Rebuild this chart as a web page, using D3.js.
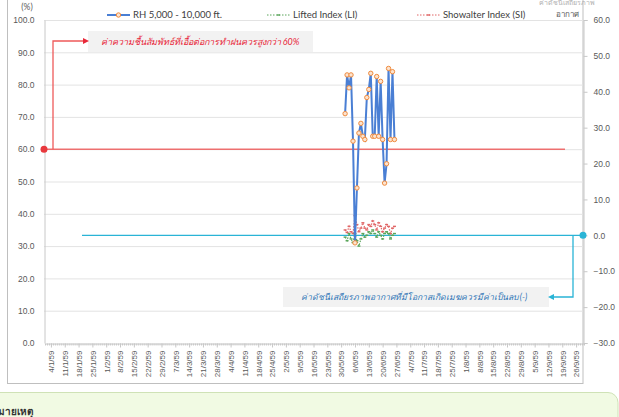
<!DOCTYPE html>
<html>
<head>
<meta charset="utf-8">
<script src="https://cdn.jsdelivr.net/npm/d3@7"></script>
<style>
  body { margin: 0; background: #fff; }
  svg { display: block; font-family: Lato, "Open Sans", sans-serif; }
</style>
</head>
<body>
<svg id="chart" width="619" height="417"></svg>
<script>
// ---- data (dates in Thai Buddhist-era short form d/m/yy) ----
const xTickLabels = ["4/1/59","11/1/59","18/1/59","25/1/59","1/2/59","8/2/59","15/2/59","22/2/59","29/2/59",
  "7/3/59","14/3/59","21/3/59","28/3/59","4/4/59","11/4/59","18/4/59","25/4/59","2/5/59","9/5/59","16/5/59",
  "23/5/59","30/5/59","6/6/59","13/6/59","20/6/59","27/6/59","4/7/59","11/7/59","18/7/59","25/7/59","1/8/59",
  "8/8/59","15/8/59","22/8/59","29/8/59","5/9/59","12/9/59","19/9/59","26/9/59"];
const obsDates = ["1/6/59","2/6/59","3/6/59","4/6/59","5/6/59","6/6/59","7/6/59","8/6/59","9/6/59","10/6/59",
  "11/6/59","12/6/59","13/6/59","14/6/59","15/6/59","16/6/59","17/6/59","18/6/59","19/6/59","20/6/59",
  "21/6/59","22/6/59","23/6/59","24/6/59","25/6/59","26/6/59"];
const rhValues = [71, 83, 79, 83, 62.5, 31, 48, 65, 68, 64, 63, 76, 78.5, 83.5, 64, 64, 82.5, 64, 81, 63,
  49.5, 55.5, 85, 63, 84, 63];
const liValues = [-0.5, -1.5, 0.5, -1.0, -2.0, 0.5, -1.5, -3.0, -1.0, 0.5, -0.5, 0.0, 1.0, 0.5, 1.5, 0.5,
  -0.5, 1.0, 0.0, -1.0, 0.5, 1.0, 0.5, -1.0, 0.0, 0.5];
const siValues = [1.5, 0.8, 2.5, 1.0, 0.5, 5.5, 3.0, 1.0, 2.0, 3.5, 2.0, 1.5, 3.0, 2.5, 4.0, 3.0, 1.5, 3.5,
  2.5, 1.0, 2.0, 3.0, 2.5, 0.5, 2.0, 2.5];
const leftTicks = [0, 10, 20, 30, 40, 50, 60, 70, 80, 90, 100];
const rightTicks = [-30, -20, -10, 0, 10, 20, 30, 40, 50, 60];
const rhTarget = 60;      // % threshold line
const indexTarget = 0;    // stability index threshold line
const seriesNames = ["RH 5,000 - 10,000 ft.", "Lifted Index (LI)", "Showalter Index (SI)"];

// parse "d/m/yy" (B.E.) into a JS date
function parseThai(s) {
  const p = s.split("/").map(Number);
  return new Date(2500 + p[2] - 543, p[1] - 1, p[0]);
}

const plot = {left: 44, right: 583, top: 20, bottom: 343};
const svg = d3.select("#chart");

// frame of the chart
svg.append("rect")
  .attr("x", 7.5).attr("y", -2)
  .attr("width", 583 - 7.5).attr("height", 383.5 + 2)
  .attr("fill", "#fff").attr("stroke", "#bfbfbf");

// scales
const x = d3.scaleTime()
  .domain([new Date(2016, 0, 1), new Date(2016, 8, 30)])
  .range([plot.left + 1, plot.right + 1]);
const yL = d3.scaleLinear().domain([0, 100]).range([plot.bottom, plot.top]);
const yR = d3.scaleLinear().domain([-30, 60]).range([plot.bottom, plot.top]);

// gridlines
svg.append("g")
  .selectAll("line")
  .data(leftTicks.slice(1))
  .join("line")
    .attr("x1", plot.left).attr("x2", plot.right)
    .attr("y1", d => yL(d) + 0.5).attr("y2", d => yL(d) + 0.5)
    .attr("stroke", "#e3e3e3");

// left axis
const gL = svg.append("g")
  .attr("transform", "translate(" + (plot.left + 0.5) + ",0)")
  .call(d3.axisLeft(yL).tickValues(leftTicks).tickFormat(d3.format(".1f")).tickSize(0).tickPadding(10));
gL.select(".domain").attr("stroke", "#c8c8c8");
gL.selectAll("text").attr("fill", "#595959").style("font-size", "8.5px");

// right axis
const gR = svg.append("g")
  .attr("transform", "translate(" + (plot.right + 0.5) + ",0)")
  .call(d3.axisRight(yR).tickValues(rightTicks).tickFormat(d3.format(".1f")).tickSize(4).tickPadding(6));
gR.select(".domain").attr("stroke", "#c8c8c8");
gR.selectAll("line").attr("stroke", "#c8c8c8");
gR.selectAll("text").attr("fill", "#595959").style("font-size", "8.5px");

// bottom axis: daily minor ticks + weekly labels
const tickDates = xTickLabels.map(parseThai);
const gMinor = svg.append("g")
  .attr("transform", "translate(0," + (plot.bottom + 0.5) + ")")
  .call(d3.axisBottom(x).ticks(d3.timeDay.every(1)).tickFormat("").tickSize(2).tickSizeOuter(0));
gMinor.select(".domain").attr("stroke", "#c8c8c8");
gMinor.selectAll("line").attr("stroke", "#c8c8c8");

const gX = svg.append("g")
  .attr("transform", "translate(0," + (plot.bottom + 0.5) + ")")
  .call(d3.axisBottom(x).tickValues(tickDates).tickFormat((d, i) => xTickLabels[i]).tickSize(4).tickSizeOuter(0));
gX.select(".domain").remove();
gX.selectAll("line").attr("stroke", "#c8c8c8");
gX.selectAll("text")
  .attr("transform", "rotate(-90)")
  .attr("x", -7).attr("y", 0).attr("dy", "0.35em")
  .style("text-anchor", "end")
  .style("font-size", "8px")
  .attr("fill", "#595959");

// axis captions
svg.append("text").attr("x", 27).attr("y", 10).attr("text-anchor", "middle")
  .style("font-size", "8.5px").attr("fill", "#595959").text("(%)");
svg.append("text").attr("x", 567).attr("y", 17).attr("text-anchor", "middle")
  .style("font-size", "8px").attr("fill", "#595959").text("อากาศ");
svg.append("text").attr("x", 567).attr("y", 5).attr("text-anchor", "middle")
  .style("font-size", "7px").attr("fill", "#b0b0b0").text("ค่าดัชนีเสถียรภาพ");

// threshold lines
const redCol = "#ee5a5a", cyanCol = "#2ab4d6";
svg.append("line")
  .attr("x1", plot.left).attr("x2", 565)
  .attr("y1", yL(rhTarget)).attr("y2", yL(rhTarget))
  .attr("stroke", redCol).attr("stroke-width", 1.5).attr("opacity", 0.85);
svg.append("circle").attr("cx", plot.left).attr("cy", yL(rhTarget)).attr("r", 3.5).attr("fill", "#e8383d");

svg.append("line")
  .attr("x1", 82).attr("x2", plot.right)
  .attr("y1", yR(indexTarget)).attr("y2", yR(indexTarget))
  .attr("stroke", cyanCol).attr("stroke-width", 1.2);
svg.append("circle").attr("cx", plot.right).attr("cy", yR(indexTarget)).attr("r", 3.5).attr("fill", cyanCol);

// annotation boxes
svg.append("rect").attr("x", 88).attr("y", 31).attr("width", 225).attr("height", 21).attr("fill", "#f2f2f2");
svg.append("text").attr("x", 200).attr("y", 45).attr("text-anchor", "middle")
  .style("font-size", "9px").style("font-style", "italic").attr("fill", "#e8283a")
  .text("ค่าความชื้นสัมพัทธ์ที่เอื้อต่อการทำฝนควรสูงกว่า 60%");
svg.append("rect").attr("x", 283).attr("y", 287).attr("width", 266).attr("height", 20).attr("fill", "#f2f2f2");
svg.append("text").attr("x", 414).attr("y", 300).attr("text-anchor", "middle")
  .style("font-size", "8.6px").style("font-style", "italic").attr("fill", "#2e75b6")
  .text("ค่าดัชนีเสถียรภาพอากาศที่มีโอกาสเกิดเมฆควรมีค่าเป็นลบ (-)");

// annotation arrows
svg.append("path")
  .attr("d", "M53," + yL(rhTarget) + "V41H84")
  .attr("fill", "none").attr("stroke", redCol).attr("stroke-width", 1.3);
svg.append("path").attr("d", "M89,41l-6,-3v6z").attr("fill", "#e8283a");
svg.append("path")
  .attr("d", "M573," + yR(indexTarget) + "V297H553")
  .attr("fill", "none").attr("stroke", cyanCol).attr("stroke-width", 1.3);
svg.append("path").attr("d", "M548,297l6,-3v6z").attr("fill", cyanCol);

// series
const rows = obsDates.map((d, i) => ({date: parseThai(d), rh: rhValues[i], li: liValues[i], si: siValues[i]}));

// Showalter index (right axis)
svg.append("path")
  .datum(rows)
  .attr("fill", "none").attr("stroke", "#e06666").attr("stroke-width", 1.2).attr("stroke-dasharray", "1.5,1.5")
  .attr("d", d3.line().x(d => x(d.date)).y(d => yR(d.si)));

// Lifted index (right axis)
svg.append("path")
  .datum(rows)
  .attr("fill", "none").attr("stroke", "#5aa55a").attr("stroke-width", 1.2).attr("stroke-dasharray", "1.5,1.5")
  .attr("d", d3.line().x(d => x(d.date)).y(d => yR(d.li)));

svg.append("g").selectAll("rect")
  .data(rows).join("rect")
    .attr("x", d => x(d.date) - 1.5).attr("y", d => yR(d.si) - 0.7)
    .attr("width", 3).attr("height", 1.4).attr("fill", "#e06666");
svg.append("g").selectAll("rect")
  .data(rows).join("rect")
    .attr("x", d => x(d.date) - 1.5).attr("y", d => yR(d.li) - 0.7)
    .attr("width", 3).attr("height", 1.4).attr("fill", "#5aa55a");

// RH (left axis)
svg.append("path")
  .datum(rows)
  .attr("fill", "none").attr("stroke", "#4a7fd4").attr("stroke-width", 2)
  .attr("d", d3.line().x(d => x(d.date)).y(d => yL(d.rh)));

svg.append("g").selectAll("circle")
  .data(rows).join("circle")
    .attr("cx", d => x(d.date)).attr("cy", d => yL(d.rh)).attr("r", 2.2)
    .attr("fill", "#fbe3cf").attr("stroke", "#f08a3c").attr("stroke-width", 1);

// legend
const legend = svg.append("g").style("font-size", "9.5px").attr("fill", "#404040");
legend.append("line").attr("x1", 107).attr("x2", 130).attr("y1", 15).attr("y2", 15)
  .attr("stroke", "#4a7fd4").attr("stroke-width", 2);
legend.append("circle").attr("cx", 118.5).attr("cy", 15).attr("r", 2.2)
  .attr("fill", "#fbe3cf").attr("stroke", "#f08a3c");
legend.append("text").attr("x", 133).attr("y", 18).text(seriesNames[0]);
legend.append("line").attr("x1", 267).attr("x2", 290).attr("y1", 15).attr("y2", 15)
  .attr("stroke", "#5aa55a").attr("stroke-dasharray", "1.5,1.5");
legend.append("rect").attr("x", 277).attr("y", 14.3).attr("width", 3).attr("height", 1.4).attr("fill", "#5aa55a");
legend.append("text").attr("x", 293).attr("y", 18).text(seriesNames[1]);
legend.append("line").attr("x1", 417).attr("x2", 440).attr("y1", 15).attr("y2", 15)
  .attr("stroke", "#e06666").attr("stroke-dasharray", "1.5,1.5");
legend.append("rect").attr("x", 427).attr("y", 14.3).attr("width", 3).attr("height", 1.4).attr("fill", "#e06666");
legend.append("text").attr("x", 443).attr("y", 18).text(seriesNames[2]);

// note box below the chart
svg.append("rect").attr("x", -12).attr("y", 392.5).attr("width", 630).attr("height", 40).attr("rx", 10)
  .attr("fill", "#f1fae3").attr("stroke", "#cfe2b6");
svg.append("text").attr("x", -9).attr("y", 415).style("font-size", "10px").style("font-weight", "bold")
  .attr("fill", "#333").text("หมายเหตุ");
</script>
</body>
</html>
